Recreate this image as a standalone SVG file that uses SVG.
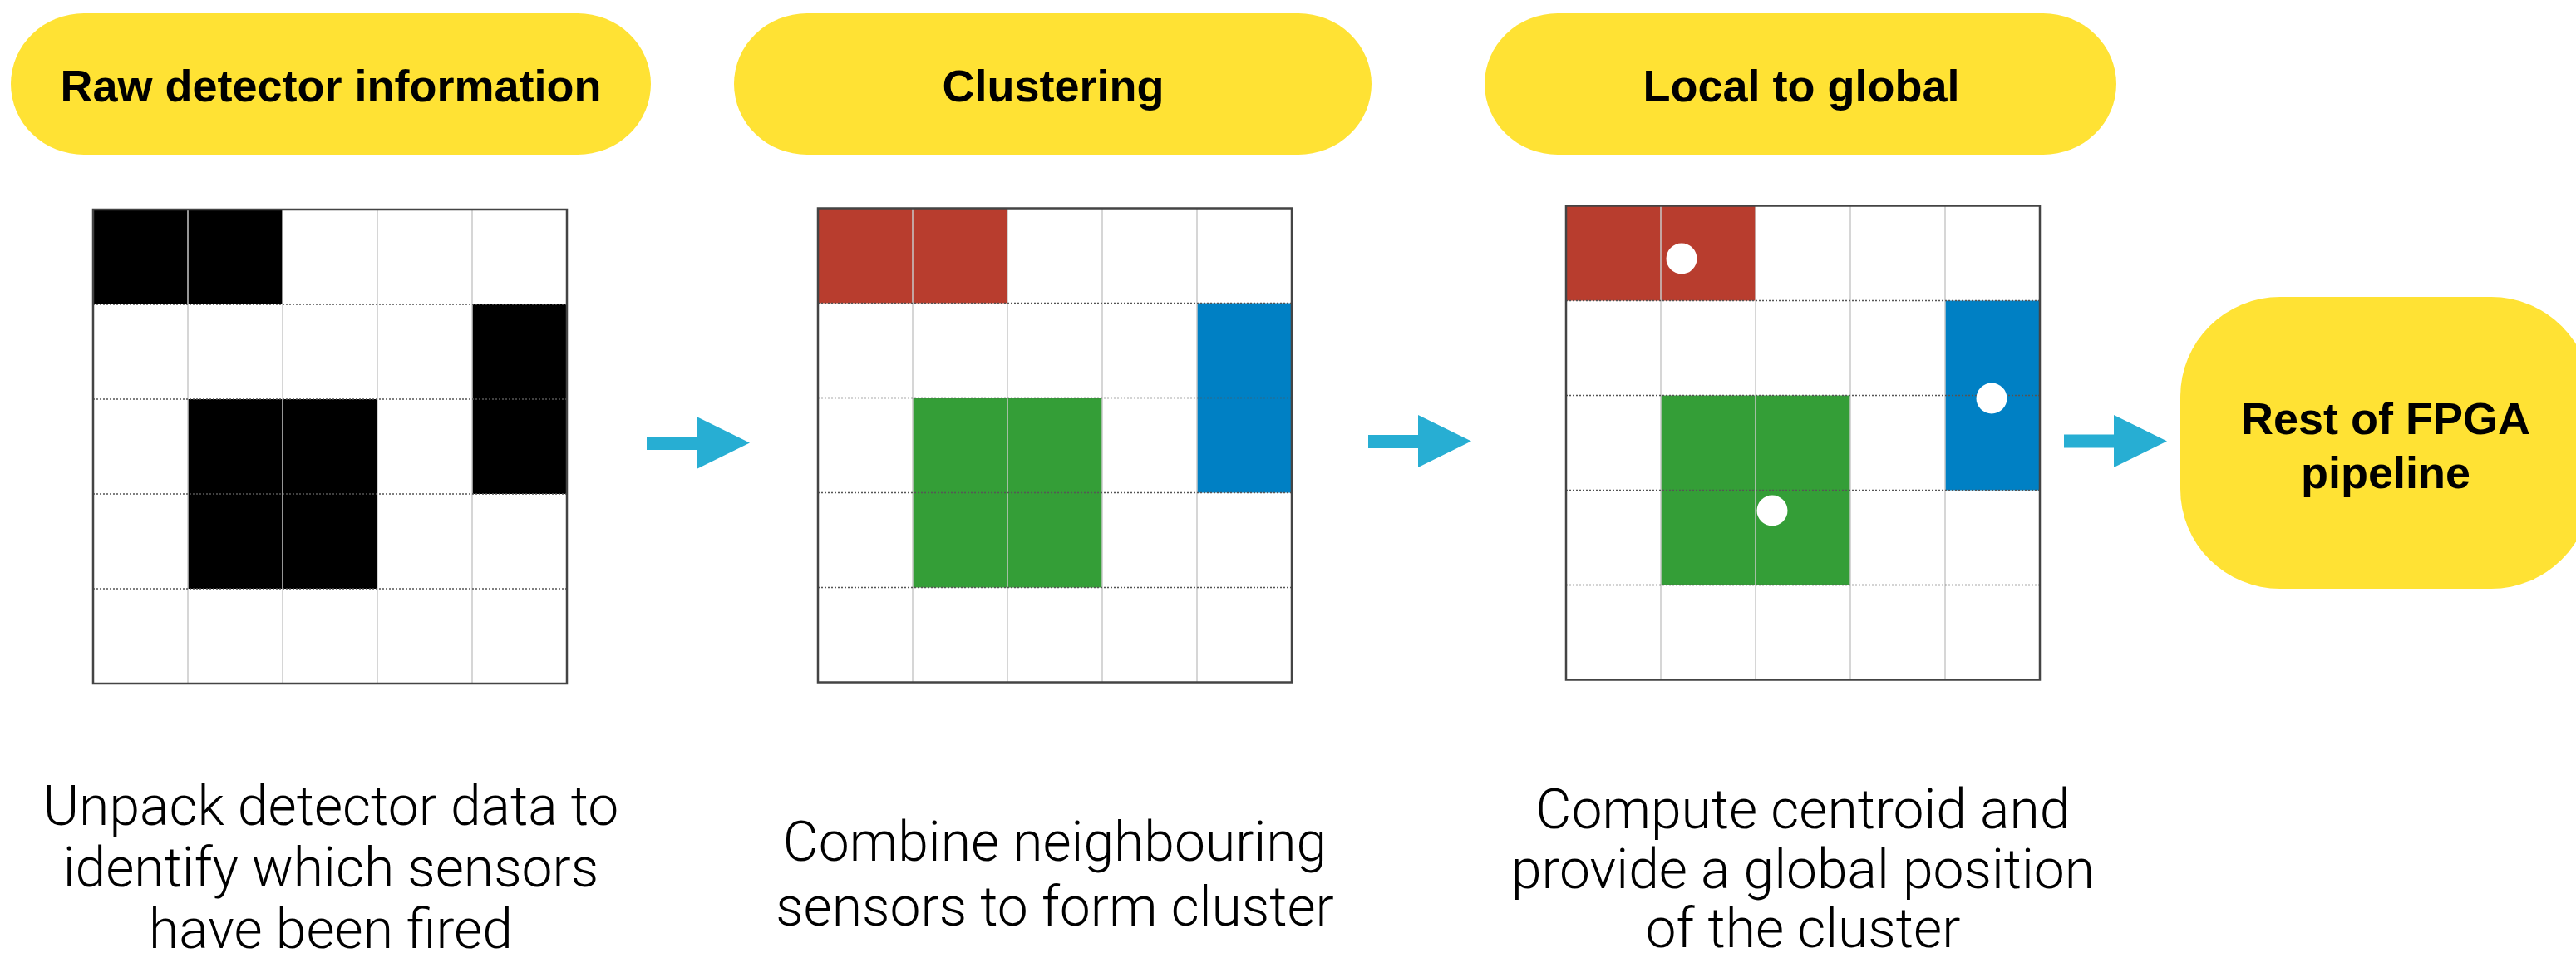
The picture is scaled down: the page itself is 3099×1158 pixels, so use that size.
<svg xmlns="http://www.w3.org/2000/svg" width="3099" height="1158" viewBox="0 0 3099 1158">
<style>
.pill{fill:#FFE234}
.ptext{font-family:"Liberation Sans",Arial,sans-serif;font-weight:bold;font-size:54px;fill:#000;text-anchor:middle}
.desc{font-family:Roboto,"Liberation Sans",sans-serif;font-weight:300;font-size:66px;fill:#000;text-anchor:middle}
.bg{fill:#fff}
.vl{stroke:#c8c8c8;stroke-width:1.5}
.hl{stroke:#555;stroke-width:1.5;stroke-dasharray:2 2}
.border{fill:none;stroke:#444;stroke-width:2.5}
.blk{fill:#000}
.red{fill:#B83D2E}
.blue{fill:#0080C4}
.green{fill:#349E37}
.dot{fill:#fff}
.arrow{fill:#27AED3}
</style>
<defs>
<g id="gridlines">
<line class="vl" x1="114" y1="0" x2="114" y2="570"/>
<line class="vl" x1="228" y1="0" x2="228" y2="570"/>
<line class="vl" x1="342" y1="0" x2="342" y2="570"/>
<line class="vl" x1="456" y1="0" x2="456" y2="570"/>
<line class="hl" x1="0" y1="114" x2="570" y2="114"/>
<line class="hl" x1="0" y1="228" x2="570" y2="228"/>
<line class="hl" x1="0" y1="342" x2="570" y2="342"/>
<line class="hl" x1="0" y1="456" x2="570" y2="456"/>
<rect class="border" x="0" y="0" width="570" height="570"/>
</g>
</defs>

<g id="pill-raw">
<rect class="pill" x="13" y="16" width="770" height="170" rx="88" ry="85"/>
<text class="ptext" x="398" y="122">Raw detector information</text>
</g>
<g id="pill-clustering">
<rect class="pill" x="883" y="16" width="767" height="170" rx="88" ry="85"/>
<text class="ptext" x="1267" y="122">Clustering</text>
</g>
<g id="pill-local">
<rect class="pill" x="1786" y="16" width="760" height="170" rx="88" ry="85"/>
<text class="ptext" x="2167" y="122">Local to global</text>
</g>
<g id="pill-rest">
<rect class="pill" x="2623" y="357" width="494" height="351" rx="120" ry="120"/>
<text class="ptext" x="2870" y="522">Rest of FPGA</text>
<text class="ptext" x="2870" y="587">pipeline</text>
</g>

<g id="grid-raw" transform="translate(112,252)">
<rect class="bg" x="0" y="0" width="570" height="570"/>
<rect class="blk" x="0" y="0" width="228" height="114"/>
<rect class="blk" x="456" y="114" width="114" height="228"/>
<rect class="blk" x="114" y="228" width="228" height="228"/>
<use href="#gridlines"/>
</g>

<g id="grid-clustering" transform="translate(984,250.5)">
<rect class="bg" x="0" y="0" width="570" height="570"/>
<rect class="red" x="0" y="0" width="228" height="114"/>
<rect class="blue" x="456" y="114" width="114" height="228"/>
<rect class="green" x="114" y="228" width="228" height="228"/>
<use href="#gridlines"/>
</g>

<g id="grid-local" transform="translate(1884,247.5)">
<rect class="bg" x="0" y="0" width="570" height="570"/>
<rect class="red" x="0" y="0" width="228" height="114"/>
<rect class="blue" x="456" y="114" width="114" height="228"/>
<rect class="green" x="114" y="228" width="228" height="228"/>
<use href="#gridlines"/>
<circle class="dot" cx="139" cy="63.5" r="18.5"/>
<circle class="dot" cx="512" cy="231.5" r="18.5"/>
<circle class="dot" cx="248" cy="366.5" r="18.5"/>
</g>

<g id="connectors">
<polygon class="arrow" points="778,525 838,525 838,501 902,532.5 838,564 838,541 778,541"/>
<polygon class="arrow" points="1646,523 1706,523 1706,499 1770,530.5 1706,562 1706,539 1646,539"/>
<polygon class="arrow" points="2483,522.5 2543,522.5 2543,499 2607,530.5 2543,562 2543,538.5 2483,538.5"/>
</g>

<g id="desc-raw">
<text class="desc" x="398" y="992">Unpack detector data to</text>
<text class="desc" x="398" y="1066">identify which sensors</text>
<text class="desc" x="398" y="1140">have been fired</text>
</g>
<g id="desc-clustering">
<text class="desc" x="1269" y="1035">Combine neighbouring</text>
<text class="desc" x="1269" y="1113">sensors to form cluster</text>
</g>
<g id="desc-local">
<text class="desc" x="2169" y="996">Compute centroid and</text>
<text class="desc" x="2169" y="1068">provide a global position</text>
<text class="desc" x="2169" y="1139">of the cluster</text>
</g>
</svg>
